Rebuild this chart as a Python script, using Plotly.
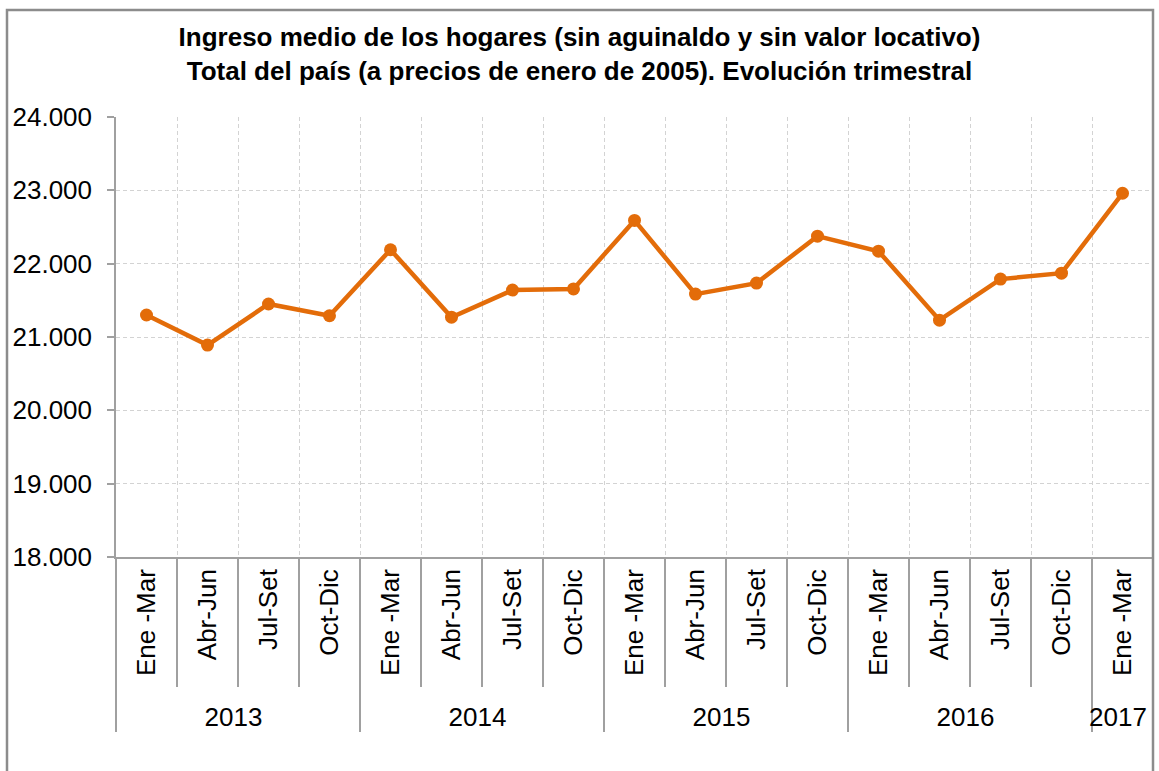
import plotly.graph_objects as go

years = ["2013"] * 4 + ["2014"] * 4 + ["2015"] * 4 + ["2016"] * 4 + ["2017"]
quarters = ["Ene -Mar", "Abr-Jun", "Jul-Set", "Oct-Dic"] * 4 + ["Ene -Mar"]
ingreso = [21300, 20890, 21450, 21290, 22190, 21270, 21640, 21655, 22590,
           21585, 21735, 22375, 22170, 21230, 21790, 21870, 22960]

title_lines = ["Ingreso medio de los hogares (sin aguinaldo y sin valor locativo)",
               "Total del país (a precios de enero de 2005). Evolución trimestral"]

ORANGE = "#E36C09"
W, H = 1159, 771
L, R, T, B = 116, 6, 117, 214
pw = W - L - R
ph = H - T - B

fig = go.Figure()
fig.add_trace(go.Scatter(
    x=[years, quarters], y=ingreso, mode="lines+markers",
    line=dict(color=ORANGE, width=4.5),
    marker=dict(color=ORANGE, size=13),
    showlegend=False, hoverinfo="y"))

fig.update_layout(
    width=W, height=H,
    margin=dict(l=L, r=R, t=T, b=B, autoexpand=False),
    paper_bgcolor="white", plot_bgcolor="white",
    font=dict(family="Liberation Sans, Arial, sans-serif", color="black"),
    title=dict(text="<b>" + "<br>".join(title_lines) + "</b>",
               x=0.5, xanchor="center", y=1 - 46 / H, yanchor="middle",
               font=dict(size=26, color="black")),
    xaxis=dict(type="multicategory", tickangle=-90,
               range=[-0.5, len(ingreso) - 0.5],
               tickfont=dict(size=26, color="black"),
               showgrid=True, gridcolor="#D3D3D3", griddash="4px,3px", gridwidth=1,
               ticks="outside", ticklen=128, tickcolor="#A0A0A0", tickwidth=1.5,
               tickson="boundaries",
               showdividers=True, dividercolor="#A0A0A0", dividerwidth=1.5,
               showline=True, linecolor="#A0A0A0", linewidth=1.5,
               zeroline=False),
    yaxis=dict(range=[18000, 24000], dtick=1000, tickformat=",d",
               tickfont=dict(size=26, color="black"),
               ticklabelstandoff=10,
               showgrid=True, gridcolor="#D3D3D3", griddash="4px,3px", gridwidth=1,
               ticks="outside", ticklen=7, tickcolor="#A0A0A0", tickwidth=1.5,
               showline=True, linecolor="#A0A0A0", linewidth=1.5,
               zeroline=False),
    separators=",.",
)

# outer chart frame (pixel positions converted to paper coordinates)
def px_x(x):
    return (x - L) / pw

def px_y(y):
    return 1 - (y - T) / ph

fig.add_shape(type="rect", xref="paper", yref="paper",
              x0=px_x(7), x1=px_x(1153), y0=px_y(800), y1=px_y(10),
              line=dict(color="#8C8C8C", width=2.5), layer="above")

fig.write_html("out.html", config={"displayModeBar": False},
               post_script="document.body.style.margin='0';")
